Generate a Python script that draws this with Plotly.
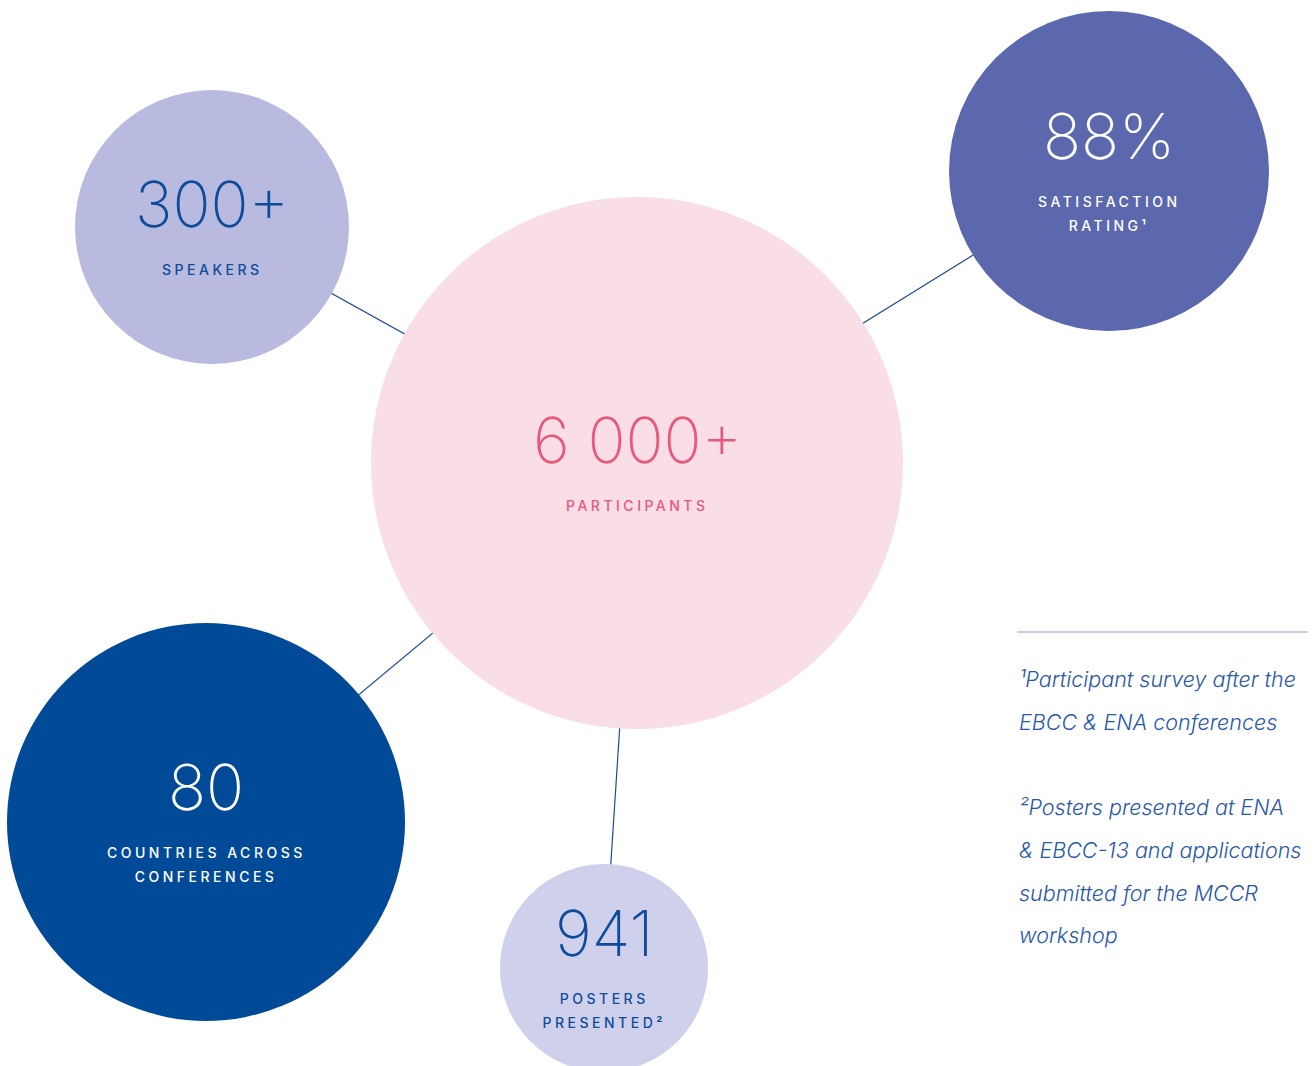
import plotly.graph_objects as go

# ---- data ----
values = ["300+", "88%", "6 000+", "80", "941"]
labels = [["SPEAKERS"], ["SATISFACTION", "RATING¹"], ["PARTICIPANTS"],
          ["COUNTRIES ACROSS", "CONFERENCES"], ["POSTERS", "PRESENTED²"]]
footnotes = ["¹Participant survey after the", "EBCC & ENA conferences", "",
             "²Posters presented at ENA", "& EBCC-13 and applications",
             "submitted for the MCCR", "workshop"]

# ---- layout (pixel coordinates) ----
cx = [212, 1109, 637, 206, 604]
cy = [227, 171, 463, 822, 968]
rad = [137, 160, 266, 199, 104]
fills = ["#b8badf", "#5c68ae", "#f9dde7", "#004a98", "#cfd0eb"]
txtcol = ["#0e4b9b", "#ffffff", "#e8587b", "#ffffff", "#0e4b9b"]
hub = 2
links = [0, 1, 3, 4]

W, H = 1314, 1066
fig = go.Figure()
fig.add_trace(go.Scatter(x=cx, y=cy, mode="markers", marker=dict(size=1, opacity=0),
                         hoverinfo="skip", showlegend=False))

shapes = []
for i in links:
    shapes.append(dict(type="line", xref="x", yref="y", x0=cx[hub], y0=cy[hub], x1=cx[i], y1=cy[i],
                       line=dict(color="#1d4b9a", width=1.2), layer="above"))
for i in range(len(values)):
    shapes.append(dict(type="circle", xref="x", yref="y", x0=cx[i]-rad[i], x1=cx[i]+rad[i],
                       y0=cy[i]-rad[i], y1=cy[i]+rad[i], fillcolor=fills[i],
                       line=dict(width=0), layer="above"))
# footnote rule
shapes.append(dict(type="line", xref="x", yref="y", x0=1017, x1=1308, y0=632, y1=632,
                   line=dict(color="#8e9cd8", width=1.2), layer="above"))

ann = []
for i in range(len(values)):
    n = len(labels[i])
    ann.append(dict(x=cx[i], y=cy[i] - 23 - 12*(n-1), xref="x", yref="y", text=values[i],
                    showarrow=False, xanchor="center", yanchor="middle",
                    font=dict(family="Inter", size=63, weight=250, color=txtcol[i])))
    for j, lab in enumerate(labels[i]):
        ann.append(dict(x=cx[i], y=cy[i] + 42 - 12*(n-1) + 24*j, xref="x", yref="y", text=lab,
                        showarrow=False, xanchor="center", yanchor="middle",
                        font=dict(family="Inter", size=14, weight=500, color=txtcol[i])))
for k, line in enumerate(footnotes):
    if line:
        ann.append(dict(x=1017, y=679 + 42.7*k, xref="x", yref="y", text=line, showarrow=False,
                        xanchor="left", yanchor="middle",
                        font=dict(family="Inter", size=21.5, weight=300, style="italic", color="#2858a8")))

fig.update_layout(
    width=W, height=H, margin=dict(l=0, r=0, t=0, b=0),
    paper_bgcolor="white", plot_bgcolor="white",
    xaxis=dict(range=[0, W], visible=False, fixedrange=True),
    yaxis=dict(range=[H, 0], visible=False, fixedrange=True),
    shapes=shapes, annotations=ann, showlegend=False,
)

post = """
document.body.style.margin = '0';
var gd = document.getElementById('{plot_id}');
function ls(){ gd.querySelectorAll('text.annotation-text').forEach(function(t){
  var s = t.textContent; if(/[A-Z]{3}/.test(s) && !/[a-z]/.test(s)){ t.setAttribute('letter-spacing', '3.5'); } }); }
ls(); if(gd.on){ gd.on('plotly_afterplot', ls); } setTimeout(ls, 50); setTimeout(ls, 300);
"""
fig.write_html("out.html", post_script=post, config={"displayModeBar": False})
